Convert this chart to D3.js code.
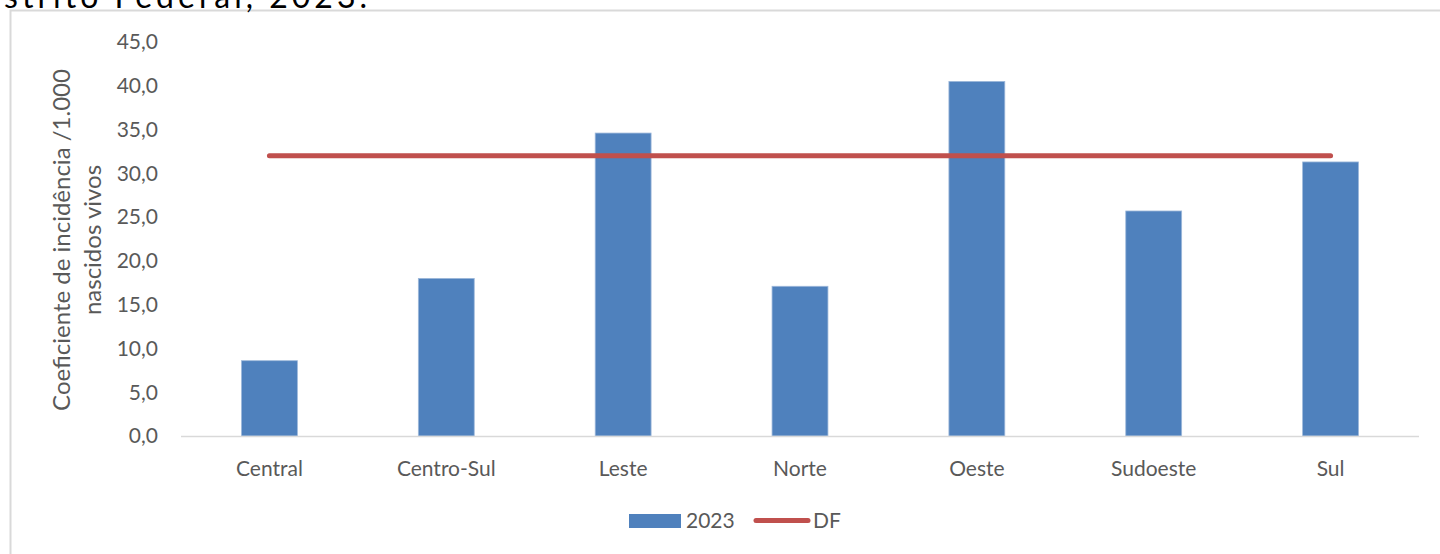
<!DOCTYPE html>
<html>
<head>
<meta charset="utf-8">
<script src="https://cdn.jsdelivr.net/npm/d3@7"></script>
<style>
  body { margin: 0; background: #fff; }
  svg { display: block; }
</style>
</head>
<body>
<svg id="chart"></svg>
<script>
const categories = ['Central', 'Centro-Sul', 'Leste', 'Norte', 'Oeste', 'Sudoeste', 'Sul'];
const values2023 = [8.6, 18.0, 34.6, 17.1, 40.5, 25.7, 31.3];
const dfValues = [32.0, 32.0, 32.0, 32.0, 32.0, 32.0, 32.0];
const yTicks = [0, 5, 10, 15, 20, 25, 30, 35, 40, 45];
const seriesNames = ['2023', 'DF'];

const width = 1440, height = 554;
const font = 'Lato, sans-serif';
const textColor = '#595959';
const barColor = '#4f81bd';
const lineColor = '#c0504d';

const svg = d3.select('#chart')
  .attr('width', width)
  .attr('height', height);

// outer frame (chart area border)
svg.append('rect')
  .attr('x', 10.5).attr('y', 10.5)
  .attr('width', 1440).attr('height', 600)
  .attr('fill', 'none')
  .attr('stroke', '#d9d9d9')
  .attr('stroke-width', 2);

// last line of the title, cut off by the top and left edges
svg.append('text')
  .attr('x', 371).attr('y', 8)
  .attr('text-anchor', 'end')
  .style('font-family', font)
  .style('font-size', '32px')
  .style('letter-spacing', '4px')
  .style('fill', '#000')
  .text('Distrito Federal, 2023.');

const x = d3.scaleBand().domain(categories).range([181, 1419]).paddingInner(0).paddingOuter(0);
const y = d3.scaleLinear().domain([0, 45]).range([436, 42]);

// y tick labels
svg.append('g').selectAll('text')
  .data(yTicks)
  .enter()
  .append('text')
  .attr('x', 158)
  .attr('y', d => y(d))
  .attr('dy', '0.35em')
  .attr('text-anchor', 'end')
  .style('font-family', font)
  .style('font-size', '21px')
  .style('fill', textColor)
  .text(d => d3.format('.1f')(d).replace('.', ','));

// y axis title
const yTitle = svg.append('text')
  .attr('transform', 'translate(70,240) rotate(-90)')
  .attr('text-anchor', 'middle')
  .style('font-family', font)
  .style('font-size', '24px')
  .style('fill', textColor);
yTitle.append('tspan').attr('x', 0).attr('y', 0).text('Coeficiente de incidência /1.000');
yTitle.append('tspan').attr('x', 0).attr('y', 31).text('nascidos vivos');

// bars
const barW = x.bandwidth() * 0.316;
svg.append('g').selectAll('rect')
  .data(values2023)
  .enter()
  .append('rect')
  .attr('x', (d, i) => x(categories[i]) + (x.bandwidth() - barW) / 2)
  .attr('y', d => y(d))
  .attr('width', barW)
  .attr('height', d => y(0) - y(d))
  .attr('fill', barColor)
  .attr('stroke', '#9db8da')
  .attr('stroke-width', 0.8);

// x axis line
svg.append('line')
  .attr('x1', 181).attr('x2', 1419)
  .attr('y1', y(0) + 0.5).attr('y2', y(0) + 0.5)
  .attr('stroke', '#d9d9d9')
  .attr('stroke-width', 1.5);

// category labels
svg.append('g').selectAll('text')
  .data(categories)
  .enter()
  .append('text')
  .attr('x', d => x(d) + x.bandwidth() / 2)
  .attr('y', 476)
  .attr('text-anchor', 'middle')
  .style('font-family', font)
  .style('font-size', '21px')
  .style('fill', textColor)
  .text(d => d);

// DF line
const line = d3.line()
  .x((d, i) => x(categories[i]) + x.bandwidth() / 2)
  .y(d => y(d));
svg.append('path')
  .datum(dfValues)
  .attr('d', line)
  .attr('fill', 'none')
  .attr('stroke', lineColor)
  .attr('stroke-width', 5)
  .attr('stroke-linecap', 'round');

// legend
const legend = svg.append('g');
legend.append('rect')
  .attr('x', 629).attr('y', 514)
  .attr('width', 52).attr('height', 14)
  .attr('fill', barColor);
legend.append('text')
  .attr('x', 686).attr('y', 528)
  .style('font-family', font)
  .style('font-size', '21px')
  .style('fill', textColor)
  .text(seriesNames[0]);
legend.append('line')
  .attr('x1', 756).attr('x2', 808)
  .attr('y1', 520.5).attr('y2', 520.5)
  .attr('stroke', lineColor)
  .attr('stroke-width', 5)
  .attr('stroke-linecap', 'round');
legend.append('text')
  .attr('x', 813).attr('y', 528)
  .style('font-family', font)
  .style('font-size', '21px')
  .style('fill', textColor)
  .text(seriesNames[1]);
</script>
</body>
</html>
